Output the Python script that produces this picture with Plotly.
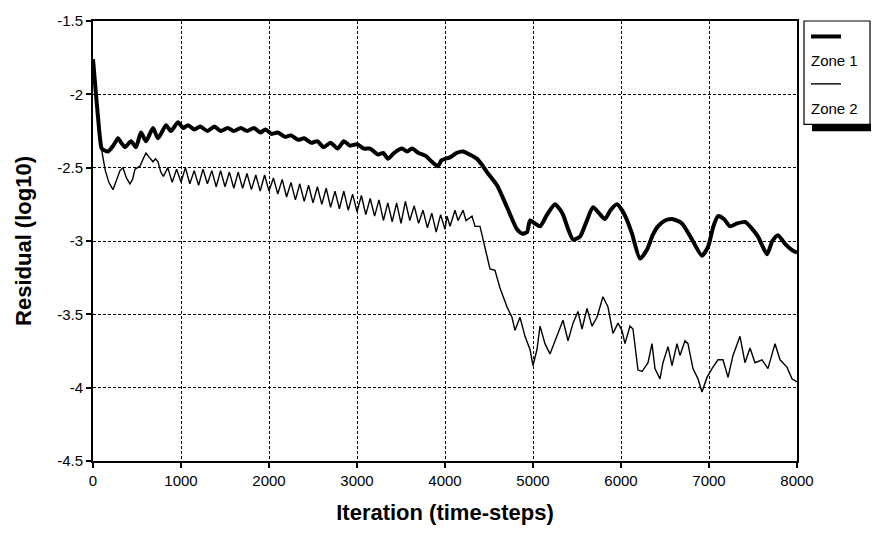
import plotly.graph_objects as go

# ---------------- data ----------------
zone1_x = [0, 34, 80, 100, 170, 230, 284, 320, 364, 432, 489, 545, 602, 682, 739, 830, 886, 966,
           1023, 1080, 1150, 1220, 1300, 1380, 1450, 1530, 1600, 1680, 1750, 1830, 1900, 1960,
           2030, 2100, 2180, 2250, 2330, 2400, 2480, 2550, 2620, 2700, 2780, 2850, 2920, 3000,
           3080, 3150, 3239, 3300, 3352, 3420, 3511, 3570, 3625, 3700, 3780, 3852, 3920, 3960,
           4000, 4057, 4130, 4205, 4280, 4364, 4420, 4477, 4591, 4705, 4818, 4880, 4932, 4966,
           5020, 5080, 5160, 5250, 5300, 5341, 5400, 5455, 5534, 5600, 5682, 5750, 5818, 5880,
           5955, 6011, 6070, 6125, 6216, 6295, 6360, 6420, 6500, 6580, 6693, 6807, 6920, 6989,
           7050, 7102, 7170, 7239, 7320, 7409, 7480, 7557, 7659, 7720, 7784, 7864, 7940, 8000]
zone1_y = [-1.76, -2.00, -2.30, -2.37, -2.39, -2.35, -2.30, -2.33, -2.36, -2.32, -2.36, -2.26,
           -2.32, -2.23, -2.30, -2.21, -2.25, -2.19,
           -2.23, -2.21, -2.24, -2.22, -2.25, -2.22, -2.25, -2.23, -2.25, -2.23, -2.25, -2.23,
           -2.26, -2.24, -2.27, -2.26, -2.29, -2.28, -2.31, -2.30, -2.33, -2.32, -2.36, -2.33,
           -2.37, -2.32, -2.35, -2.34, -2.37, -2.37, -2.41, -2.40, -2.44, -2.40, -2.37, -2.39,
           -2.37, -2.40, -2.42, -2.46, -2.49, -2.45,
           -2.44, -2.43, -2.40, -2.39, -2.41, -2.44, -2.48, -2.53, -2.62, -2.77, -2.92, -2.95,
           -2.94, -2.86, -2.88, -2.90, -2.82, -2.75, -2.78, -2.82, -2.92, -2.99, -2.97, -2.88,
           -2.77, -2.81, -2.85, -2.79, -2.75, -2.79, -2.86, -2.95, -3.12, -3.06, -2.96, -2.90,
           -2.86, -2.85, -2.88, -2.99, -3.10, -3.04, -2.90, -2.83, -2.85, -2.90, -2.88, -2.87,
           -2.91, -2.97, -3.09, -3.00, -2.96, -3.02, -3.06, -3.08]

zone2_x = [0, 34, 80, 110, 140, 180, 227, 270, 307, 341, 380, 420, 450, 477, 534, 570, 602, 640,
           682, 710, 739, 770,
           800, 850, 900, 950, 1000, 1050, 1100, 1150, 1200, 1250, 1300, 1350, 1400, 1450, 1500,
           1550, 1600, 1650, 1700, 1750, 1800, 1850, 1900, 1950, 2000, 2050, 2100, 2150, 2200,
           2250, 2300, 2350, 2400, 2450, 2500, 2550, 2600, 2650, 2700, 2750, 2800, 2850, 2900,
           2950, 3000, 3050, 3100, 3150, 3200, 3250, 3300, 3350, 3400, 3450, 3500, 3550, 3600,
           3650, 3700, 3750, 3800, 3850, 3900, 3950, 4000,
           4023, 4057, 4114, 4148, 4205, 4239, 4307, 4341, 4398, 4432, 4511, 4568, 4625, 4705,
           4761, 4795, 4852, 4909, 4966, 5000, 5045, 5080, 5136, 5193, 5273, 5341, 5398, 5455,
           5511, 5557, 5614, 5670, 5727, 5795, 5852, 5909, 5966,
           6011, 6045, 6102, 6136, 6193, 6239, 6307, 6352, 6386, 6443, 6477, 6534, 6580, 6636,
           6670, 6727, 6761, 6818, 6875, 6920, 6977, 7034, 7102, 7159, 7216, 7273, 7352, 7409,
           7466, 7523, 7602, 7670, 7750, 7807, 7886, 7943, 8000]
zone2_y = [-1.76, -2.00, -2.30, -2.42, -2.52, -2.60, -2.65, -2.58, -2.52, -2.50, -2.57, -2.61,
           -2.58, -2.51, -2.49, -2.44, -2.40, -2.43, -2.46, -2.44, -2.46, -2.53,
           -2.56, -2.50, -2.60, -2.51, -2.60, -2.50, -2.61, -2.52, -2.62, -2.51, -2.61, -2.52,
           -2.63, -2.52, -2.63, -2.53, -2.64, -2.53, -2.64, -2.54, -2.65, -2.55, -2.66, -2.55,
           -2.66, -2.57, -2.68, -2.58, -2.70, -2.60, -2.72, -2.61, -2.73, -2.62, -2.74, -2.63,
           -2.75, -2.64, -2.77, -2.66, -2.78, -2.66, -2.79, -2.68, -2.80, -2.69, -2.82, -2.71,
           -2.83, -2.72, -2.86, -2.74, -2.87, -2.74, -2.88, -2.73, -2.86, -2.76, -2.88, -2.79,
           -2.91, -2.81, -2.94, -2.82, -2.92,
           -2.83, -2.90, -2.79, -2.86, -2.79, -2.86, -2.83, -2.90, -2.90, -2.99, -3.19, -3.20,
           -3.32, -3.45, -3.52, -3.61, -3.52, -3.65, -3.74, -3.85, -3.74, -3.58, -3.70, -3.77,
           -3.65, -3.54, -3.68, -3.56, -3.48, -3.60, -3.46, -3.58, -3.52, -3.38, -3.45, -3.63,
           -3.56,
           -3.61, -3.70, -3.58, -3.60, -3.88, -3.89, -3.83, -3.70, -3.87, -3.94, -3.83, -3.72,
           -3.85, -3.70, -3.78, -3.68, -3.70, -3.87, -3.94, -4.03, -3.93, -3.87, -3.81, -3.81,
           -3.93, -3.78, -3.65, -3.83, -3.73, -3.83, -3.81, -3.87, -3.70, -3.81, -3.86, -3.94,
           -3.96]

x_ticks = [0, 1000, 2000, 3000, 4000, 5000, 6000, 7000, 8000]
x_tick_labels = ["0", "1000", "2000", "3000", "4000", "5000", "6000", "7000", "8000"]
y_ticks = [-1.5, -2, -2.5, -3, -3.5, -4, -4.5]
y_tick_labels = ["-1.5", "-2", "-2.5", "-3", "-3.5", "-4", "-4.5"]
series_names = ["Zone 1", "Zone 2"]

FONT = "Liberation Sans, Arial, sans-serif"

fig = go.Figure()
fig.add_trace(go.Scatter(x=zone1_x, y=zone1_y, mode="lines", name=series_names[0],
                         line=dict(color="black", width=4, shape="spline", smoothing=0.6)))
fig.add_trace(go.Scatter(x=zone2_x, y=zone2_y, mode="lines", name=series_names[1],
                         line=dict(color="black", width=1.4)))

axis_common = dict(showline=True, mirror=True, linecolor="black", linewidth=1.8,
                   ticks="outside", ticklen=5, tickwidth=1.5, tickcolor="black",
                   showgrid=True, gridcolor="black", gridwidth=1.2, griddash="3px,2px",
                   zeroline=False, tickfont=dict(family=FONT, size=15, color="black"))

fig.update_xaxes(range=[0, 8000], tickvals=x_ticks, ticktext=x_tick_labels,
                 title=dict(text="<b>Iteration (time-steps)</b>", standoff=17,
                            font=dict(family=FONT, size=22, color="black")),
                 **axis_common)
fig.update_yaxes(range=[-4.5, -1.5], tickvals=y_ticks, ticktext=y_tick_labels,
                 title=dict(text="<b>Residual (log10)</b>", standoff=20,
                            font=dict(family=FONT, size=22, color="black")),
                 **axis_common)

# custom legend box (line sample above label, with drop shadow)
W, H = 704.0, 455.0
def px_x(p):
    return (p - 93) / W
def px_y(p):
    return (472 - p) / H

shapes = [
    dict(type="rect", xref="paper", yref="paper", x0=px_x(812), x1=px_x(871),
         y0=px_y(131), y1=px_y(123), fillcolor="black", line=dict(width=0)),
    dict(type="rect", xref="paper", yref="paper", x0=px_x(804), x1=px_x(870),
         y0=px_y(124), y1=px_y(17), fillcolor="white", line=dict(color="black", width=1.2)),
    dict(type="line", xref="paper", yref="paper", x0=px_x(811), x1=px_x(841),
         y0=px_y(33), y1=px_y(33), line=dict(color="black", width=4)),
    dict(type="line", xref="paper", yref="paper", x0=px_x(811), x1=px_x(841),
         y0=px_y(82), y1=px_y(82), line=dict(color="black", width=1.4)),
]
annotations = [
    dict(text=series_names[0], xref="paper", yref="paper", x=px_x(809), y=px_y(58),
         xanchor="left", yanchor="middle", showarrow=False,
         font=dict(family=FONT, size=15, color="black")),
    dict(text=series_names[1], xref="paper", yref="paper", x=px_x(809), y=px_y(107),
         xanchor="left", yanchor="middle", showarrow=False,
         font=dict(family=FONT, size=15, color="black")),
]

fig.update_layout(width=872, height=533, margin=dict(l=93, r=75, t=17, b=61),
                  paper_bgcolor="white", plot_bgcolor="white", showlegend=False,
                  shapes=shapes, annotations=annotations,
                  font=dict(family=FONT, color="black"))

fig.write_html("out.html", config={"displayModeBar": False},
               post_script="document.body.style.margin='0';")
